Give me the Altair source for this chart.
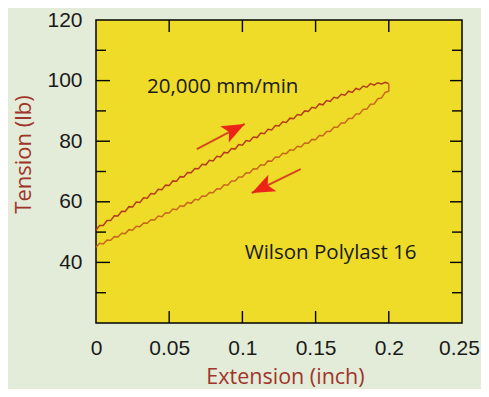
import altair as alt
import pandas as pd

# ---- data ----
# loading curve (upper), x in inch, y in lb
up_x = [0.0, 0.0025, 0.005, 0.0075, 0.01, 0.0125, 0.015, 0.0175, 0.02, 0.0225,
        0.025, 0.0275, 0.03, 0.0325, 0.035, 0.0375, 0.04, 0.0425, 0.045, 0.0475,
        0.05, 0.0525, 0.055, 0.0575, 0.06, 0.0625, 0.065, 0.0675, 0.07, 0.0725,
        0.075, 0.0775, 0.08, 0.0825, 0.085, 0.0875, 0.09, 0.0925, 0.095, 0.0975,
        0.1, 0.1025, 0.105, 0.1075, 0.11, 0.1125, 0.115, 0.1175, 0.12, 0.1225,
        0.125, 0.1275, 0.13, 0.1325, 0.135, 0.1375, 0.14, 0.1425, 0.145, 0.1475,
        0.15, 0.1525, 0.155, 0.1575, 0.16, 0.1625, 0.165, 0.1675, 0.17, 0.1725,
        0.175, 0.1775, 0.18, 0.1825, 0.185, 0.1875, 0.19, 0.1925, 0.195, 0.1975,
        0.2]
up_y = [50.6, 52.2, 52.2, 53.8, 53.8, 55.4, 55.3, 56.9, 56.8, 58.4,
        58.3, 59.9, 59.8, 61.3, 61.2, 62.7, 62.6, 64.1, 64.0, 65.5,
        65.4, 66.9, 66.8, 68.3, 68.2, 69.7, 69.6, 71.0, 70.9, 72.4,
        72.2, 73.7, 73.5, 75.0, 74.8, 76.3, 76.1, 77.6, 77.4, 78.9,
        78.7, 80.2, 80.0, 81.4, 81.2, 82.7, 82.5, 83.9, 83.7, 85.2,
        85.0, 86.4, 86.2, 87.6, 87.4, 88.8, 88.6, 90.0, 89.8, 91.2,
        90.9, 92.3, 92.0, 93.4, 93.1, 94.5, 94.2, 95.5, 95.2, 96.5,
        96.1, 97.4, 97.0, 98.2, 97.8, 99.0, 98.5, 99.3, 98.9, 99.4,
        99.0]
# unloading curve (lower), listed from x = 0 up to the tip
lo_x = [0.0, 0.0025, 0.005, 0.0075, 0.01, 0.0125, 0.015, 0.0175, 0.02, 0.0225,
        0.025, 0.0275, 0.03, 0.0325, 0.035, 0.0375, 0.04, 0.0425, 0.045, 0.0475,
        0.05, 0.0525, 0.055, 0.0575, 0.06, 0.0625, 0.065, 0.0675, 0.07, 0.0725,
        0.075, 0.0775, 0.08, 0.0825, 0.085, 0.0875, 0.09, 0.0925, 0.095, 0.0975,
        0.1, 0.1025, 0.105, 0.1075, 0.11, 0.1125, 0.115, 0.1175, 0.12, 0.1225,
        0.125, 0.1275, 0.13, 0.1325, 0.135, 0.1375, 0.14, 0.1425, 0.145, 0.1475,
        0.15, 0.1525, 0.155, 0.1575, 0.16, 0.1625, 0.165, 0.1675, 0.17, 0.1725,
        0.175, 0.1775, 0.18, 0.1825, 0.185, 0.1875, 0.19, 0.1925, 0.195, 0.1975,
        0.2, 0.2]
lo_y = [45.0, 46.3, 46.1, 47.4, 47.3, 48.5, 48.4, 49.6, 49.5, 50.8,
        50.6, 51.9, 51.8, 53.0, 52.9, 54.1, 54.0, 55.3, 55.1, 56.4,
        56.3, 57.6, 57.4, 58.7, 58.5, 59.8, 59.5, 60.8, 60.6, 61.9,
        61.8, 63.1, 63.0, 64.3, 64.2, 65.6, 65.5, 66.9, 66.9, 68.2,
        68.2, 69.6, 69.5, 70.9, 70.8, 72.2, 72.1, 73.5, 73.4, 74.8,
        74.7, 76.0, 75.9, 77.2, 77.0, 78.3, 78.1, 79.4, 79.3, 80.6,
        80.5, 81.9, 81.8, 83.2, 83.2, 84.6, 84.6, 86.0, 86.0, 87.5,
        87.5, 89.0, 89.0, 90.5, 90.6, 92.2, 92.3, 94.0, 94.3, 96.1,
        96.5, 99.0]

x_labels = [0, 0.05, 0.1, 0.15, 0.2, 0.25]
x_ticks = [0.05, 0.1, 0.15, 0.2]
y_labels = [40, 60, 80, 100, 120]
y_major = [40, 60, 80, 100]
y_minor = [30, 50, 70, 90, 110]

arrow_x = [0.0689, 0.1398]
arrow_y = [77.4, 70.8]
arrow_x2 = [0.1016, 0.1064]
arrow_y2 = [85.7, 62.9]
arrow_angle = [62.5, 244]

notes = ["20,000 mm/min", "Wilson Polylast 16"]
note_x = [0.0348, 0.1016]
note_y = [97.9, 43.1]

W, H = 366, 303
YELLOW = "#eedc28"
BG = "#e3ecd9"
TITLE_RED = "#a0342a"

n_lo = len(lo_x)
loop = pd.DataFrame({
    "x": up_x + lo_x,
    "y": up_y + lo_y,
    "part": ["up"] * len(up_x) + ["down"] * n_lo,
    "o": list(range(len(up_x))) + [n_lo - i for i in range(n_lo)],
})

xs = alt.Scale(domain=[0, 0.25], nice=False, zero=False)
ys = alt.Scale(domain=[20, 120], nice=False, zero=False)

x_axis = alt.Axis(values=x_labels, format="~g", ticks=False, domain=False, grid=False,
                  labelFlush=False, labelOffset=alt.expr("datum.value == 0.25 ? -3 : 0"),
                  labelPadding=14, labelFontSize=21, labelFont="Liberation Sans",
                  labelColor="#1a1a1a", title="Extension (inch)", titleFont="Open Sans",
                  titleFontSize=21.5, titleFontWeight="normal", titleColor=TITLE_RED,
                  titleX=189, titleY=60, titleBaseline="alphabetic", titleAnchor="middle",
                  titleAlign="center")
y_axis = alt.Axis(values=y_labels, format="d", ticks=False, domain=False, grid=False,
                  labelFlush=False,
                  labelPadding=14, labelFontSize=21, labelFont="Liberation Sans",
                  labelColor="#1a1a1a", title="Tension (lb)", titleFont="Open Sans",
                  titleFontSize=22, titleFontWeight="normal", titleColor=TITLE_RED,
                  titleX=-73, titleY=134, titleBaseline="middle", titleAlign="center",
                  titleAngle=270)

def X(f):
    return alt.X(f, scale=xs, axis=x_axis)

def Y(f):
    return alt.Y(f, scale=ys, axis=y_axis)

lines = alt.Chart(loop).mark_line(strokeWidth=1.5).encode(
    x=X("x:Q"), y=Y("y:Q"),
    color=alt.Color("part:N", scale=alt.Scale(domain=["up", "down"],
                    range=["#b43c1c", "#c9681c"]), legend=None),
    order="o:Q",
)

xt = pd.DataFrame({"x": x_ticks})
ymaj = pd.DataFrame({"y": y_major})
ymin = pd.DataFrame({"y": y_minor})

def xtick(y0, y1):
    return alt.Chart(xt).mark_rule(color="black", strokeWidth=1.4).encode(
        x=X("x:Q"), y=alt.value(y0), y2=alt.value(y1))

def ytick(df, x0, x1):
    return alt.Chart(df).mark_rule(color="black", strokeWidth=1.4).encode(
        y=Y("y:Q"), x=alt.value(x0), x2=alt.value(x1))

ticks = [
    xtick(H, H - 12), xtick(0, 12),
    ytick(ymaj, 0, 14), ytick(ymin, 0, 10),
    ytick(ymaj, W, W - 12), ytick(ymin, W, W - 10),
]

arr = pd.DataFrame({"x": arrow_x, "y": arrow_y, "x2": arrow_x2, "y2": arrow_y2,
                    "a": arrow_angle})
shafts = alt.Chart(arr).mark_rule(color="#d44a1e", strokeWidth=2).encode(
    x=X("x:Q"), y=Y("y:Q"), x2="x2:Q", y2="y2:Q")
heads = alt.Chart(arr).mark_point(
    filled=True, opacity=1, color="#ec2418", size=520,
    shape="M0,0 L-0.8,2 L0,1.55 L0.8,2 Z").encode(
    x=X("x2:Q"), y=Y("y2:Q"), angle=alt.Angle("a:Q", scale=None))

tx = pd.DataFrame({"t": notes, "x": note_x, "y": note_y})
texts = alt.Chart(tx).mark_text(align="left", baseline="middle", font="Open Sans",
                                fontSize=20.5, color="#1a1a1a").encode(
    x=X("x:Q"), y=Y("y:Q"), text="t:N")

chart = alt.layer(lines, *ticks, shafts, heads, texts).properties(
    width=W, height=H,
    autosize=alt.AutoSizeParams(type="none"),
    padding={"left": 88, "top": 12, "right": 19, "bottom": 66},
    background=BG,
).configure_view(fill=YELLOW, stroke="black", strokeWidth=1.5)

chart.save("out.html", embed_options={"renderer": "svg", "actions": False})
